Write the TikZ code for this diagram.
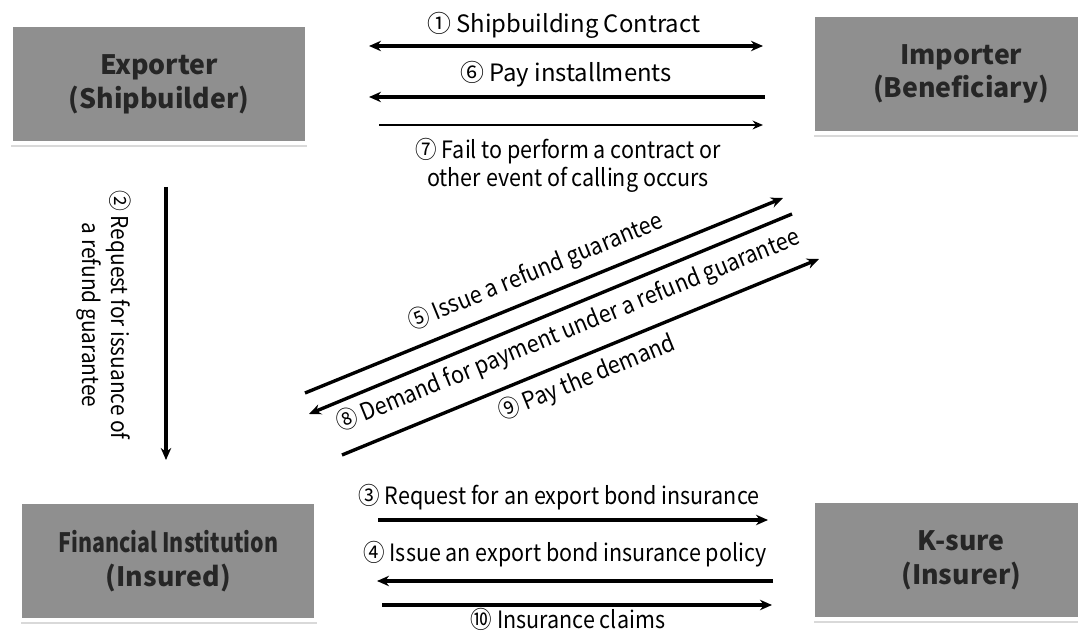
\documentclass[tikz,border=0pt]{standalone}
\usepackage{fontspec}
\setmainfont{Noto Sans CJK KR}
\newfontfamily\condfont{Noto Sans CJK KR}[FakeStretch=0.9]
\newfontfamily\boxcondfont{Noto Sans CJK KR}[FakeStretch=0.8]
\usetikzlibrary{arrows.meta,positioning,shadows}
\definecolor{boxgray}{HTML}{8F8F8F}
\definecolor{boxtext}{HTML}{262626}

\begin{document}
\begin{tikzpicture}[
  box/.style={draw=white, line width=2.8pt, fill=boxgray, minimum width=7.4cm, minimum height=2.95cm, inner sep=0pt, align=center, text=boxtext, font=\fontsize{19}{24}\selectfont\bfseries, drop shadow={shadow xshift=0.3pt, shadow yshift=-2.5pt, opacity=0.3}},
  lbl/.style={inner sep=0pt, font=\fontsize{17}{20}\selectfont},
  condlbl/.style={inner sep=0pt, font=\fontsize{17}{20}\condfont},
  arr/.style={-{Stealth[length=3mm, width=2.6mm]}, line width=2.4pt},
  dblarr/.style={{Stealth[length=3mm, width=2.6mm]}-{Stealth[length=3mm, width=2.6mm]}, line width=2.4pt},
  thinarr/.style={-{Stealth[length=2.6mm, width=2.2mm]}, line width=1.1pt}
]
\clip (0,0) rectangle (26.95,15.9);
\node[box] (exporter) at (3.975, 13.79) {Exporter\\(Shipbuilder)};
\node[box] (importer) at (24.03, 14.05) {Importer\\(Beneficiary)};
\node[box] (bank) at (4.21, 1.875) {{\boxcondfont\bfseries Financial Institution}\\(Insured)};
\node[box] (ksure) at (24.03, 1.89) {K-sure\\(Insurer)};

\coordinate (contract-l) at (9.225, 14.75);
\coordinate (contract-r) at (19.075, 14.75);
\coordinate (pay-l) at (9.225, 13.475);
\coordinate (pay-r) at (19.125, 13.475);
\coordinate (fail-l) at (9.475, 12.775);
\coordinate (fail-r) at (19.075, 12.775);
\coordinate (req-t) at (4.15, 11.225);
\coordinate (req-b) at (4.15, 4.4);
\coordinate (issue-l) at (7.625, 6.075);
\coordinate (issue-r) at (19.575, 10.95);
\coordinate (demand-r) at (19.8, 10.55);
\coordinate (demand-l) at (7.725, 5.55);
\coordinate (paydem-l) at (8.55, 4.525);
\coordinate (paydem-r) at (20.475, 9.425);
\coordinate (bond-l) at (9.45, 2.9);
\coordinate (bond-r) at (19.2, 2.9);
\coordinate (policy-r) at (19.325, 1.375);
\coordinate (policy-l) at (9.425, 1.375);
\coordinate (claim-l) at (9.55, 0.775);
\coordinate (claim-r) at (19.3, 0.775);

\node[lbl, anchor=base] (contract) at (14.09, 15.075) {① Shipbuilding Contract};
\node[lbl, anchor=base] (pay) at (14.15, 13.85) {⑥ Pay installments};
\node[condlbl, align=center] (fail) at (14.2, 11.775) {⑦ Fail to perform a contract or\\other event of calling occurs};
\node[condlbl, font=\fontsize{16.5}{21}\condfont, align=center, rotate=-90] (req) at (2.6, 8.025) {② Request for issuance of\\a refund guarantee};
\node[condlbl, rotate=22.2] (issue) at (13.4, 9.1) {⑤ Issue a refund guarantee};
\node[condlbl, rotate=22.2] (demand) at (14.2, 7.625) {⑧ Demand for payment under a refund guarantee};
\node[condlbl, rotate=22.2] (paydem) at (14.675, 6.45) {⑨ Pay the demand};
\node[condlbl, anchor=base] (bond) at (13.975, 3.275) {③ Request for an export bond insurance};
\node[condlbl, anchor=base] (policy) at (14.125, 1.85) {④ Issue an export bond insurance policy};
\node[condlbl, anchor=base] (claim) at (14.2, 0.175) {⑩ Insurance claims};

\draw[dblarr] (contract-l) -- (contract-r);
\draw[arr] (pay-r) -- (pay-l);
\draw[thinarr] (fail-l) -- (fail-r);
\draw[arr] (req-t) -- (req-b);
\draw[arr] (issue-l) -- (issue-r);
\draw[arr] (demand-r) -- (demand-l);
\draw[arr] (paydem-l) -- (paydem-r);
\draw[arr] (bond-l) -- (bond-r);
\draw[arr] (policy-r) -- (policy-l);
\draw[arr] (claim-l) -- (claim-r);
\end{tikzpicture}
\end{document}
